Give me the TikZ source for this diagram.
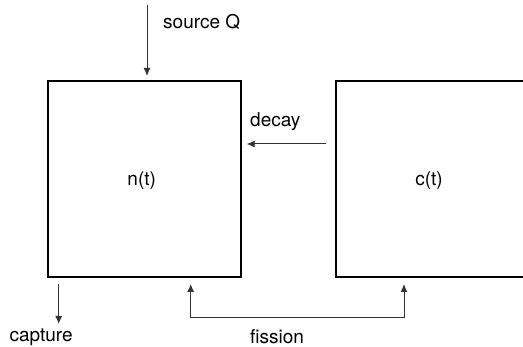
\documentclass[tikz,border=0pt]{standalone}
\usepackage{fontspec}
\setmainfont{TeX Gyre Heros}
\usetikzlibrary{arrows.meta}
\begin{document}
\begin{tikzpicture}[x=1pt,y=-1pt,
  box/.style={draw=black,line width=1.8pt,minimum width=193pt,minimum height=196.6pt,inner sep=0pt},
  txt/.style={font=\fontsize{19}{22}\selectfont,inner sep=0pt},
  flow/.style={draw=black!80,line width=1pt,-{Latex[length=8pt,width=7pt]}},
  flow2/.style={draw=black!80,line width=1pt,{Latex[length=8pt,width=7pt]}-{Latex[length=8pt,width=7pt]}}]
\useasboundingbox (0,0) rectangle (523,347);
\node[box] (n) at (144.2,179) {};
\node[box,minimum width=230pt] (c) at (451,179) {};
\node[txt] (nt) at (141.7,181) {n(t)};
\node[txt] (ct) at (429,181) {c(t)};
\node[txt,anchor=west] (lsrc) at (163,22) {source Q};
\node[txt,anchor=west] (ldec) at (250,121.7) {decay};
\node[txt,anchor=west] (lcap) at (9.3,337) {capture};
\node[txt,anchor=west] (lfis) at (250,337) {fission};
\coordinate (s0) at (147,5);
\coordinate (s1) at (147,76);
\coordinate (d0) at (325.7,144);
\coordinate (d1) at (246.7,144);
\coordinate (k0) at (58.7,284);
\coordinate (k1) at (58.7,324);
\coordinate (f0) at (190.7,284);
\coordinate (f1) at (404,284);
\draw[flow] (s0) -- (s1);
\draw[flow] (d0) -- (d1);
\draw[flow] (k0) -- (k1);
\draw[flow2] (f0) -- (190.7,318) -- (404,318) -- (f1);
\end{tikzpicture}
\end{document}
